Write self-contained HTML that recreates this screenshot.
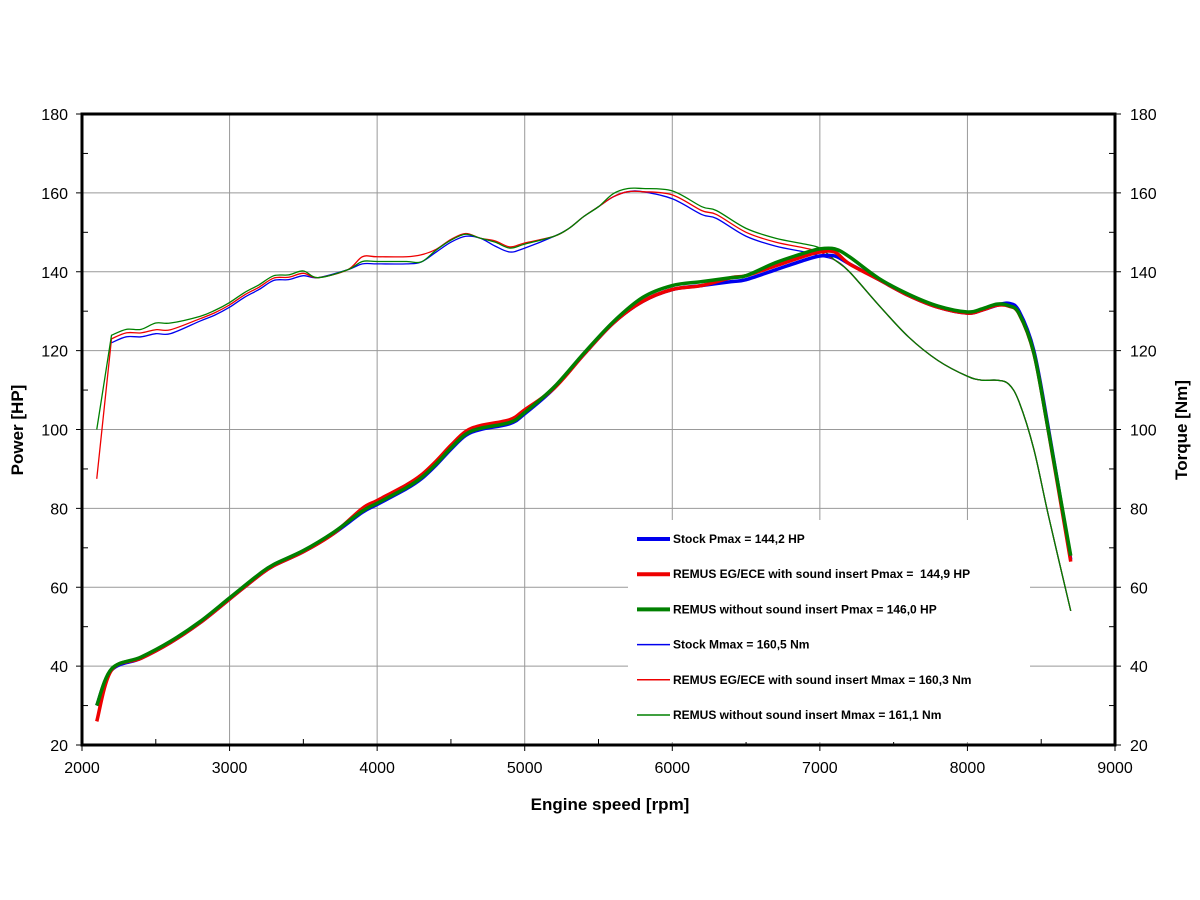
<!DOCTYPE html><html><head><style>body{margin:0;background:#fff}svg{display:block}text{font-family:"Liberation Sans",Arial,sans-serif}</style></head><body>
<svg id="s" width="1200" height="900" xmlns="http://www.w3.org/2000/svg"></svg>
<script>
const s=document.getElementById('s');
const X=r=>82+(r-2000)*1033/7000, Y=v=>745-(v-20)*631/160;
let h='';
for(let r=3000;r<=8000;r+=1000)h+=`<line x1="${X(r)}" y1="114" x2="${X(r)}" y2="745" stroke="#999" stroke-width="1"/>`;
for(let v=40;v<=160;v+=20)h+=`<line x1="82" y1="${Y(v)}" x2="1115" y2="${Y(v)}" stroke="#999" stroke-width="1"/>`;
for(let v=30;v<180;v+=20){h+=`<line x1="82" y1="${Y(v)}" x2="88" y2="${Y(v)}" stroke="#000"/><line x1="1109" y1="${Y(v)}" x2="1115" y2="${Y(v)}" stroke="#000"/>`;}
for(let r=2500;r<9000;r+=1000){h+=`<line x1="${X(r)}" y1="739" x2="${X(r)}" y2="745" stroke="#000"/>`;}
for(let r=2000;r<=9000;r+=1000){h+=`<line x1="${X(r)}" y1="745" x2="${X(r)}" y2="751" stroke="#000"/><text x="${X(r)}" y="773" font-size="16" text-anchor="middle">${r}</text>`;}
for(let v=20;v<=180;v+=20){h+=`<line x1="76" y1="${Y(v)}" x2="82" y2="${Y(v)}" stroke="#000"/><line x1="1115" y1="${Y(v)}" x2="1121" y2="${Y(v)}" stroke="#000"/><text x="68" y="${Y(v)+6}" font-size="16" text-anchor="end">${v}</text><text x="1130" y="${Y(v)+6}" font-size="16">${v}</text>`;}
function path(d,c,w,sharp){let p=d.map(a=>[X(a[0]),Y(a[1])]);let o=`M${p[0]}`;for(let i=0;i<p.length-1;i++){if(sharp&&i==0){o+=`L${p[1]}`;continue;}const p0=(sharp&&i==1)?p[1]:(p[i-1]||p[i]),p1=p[i],p2=p[i+1],p3=p[i+2]||p2;const c1=[p1[0]+(p2[0]-p0[0])/6,p1[1]+(p2[1]-p0[1])/6],c2=[p2[0]-(p3[0]-p1[0])/6,p2[1]-(p3[1]-p1[1])/6];o+=`C${c1} ${c2} ${p2}`;}return `<path d="${o}" fill="none" stroke="${c}" stroke-width="${w}" stroke-linejoin="round"/>`;}
const P=[[2100,30],[2200,39],[2400,42],[2600,46],[2800,51],[3000,57],[3200,63],[3300,65.5],[3500,69],[3700,73.5],[3900,79],[4000,81],[4200,85],[4300,87.5],[4400,91],[4500,95],[4600,98.5],[4700,100],[4900,101.5],[5000,104],[5200,110.5],[5400,119],[5600,127],[5800,132.5],[6000,135.5],[6200,136.5],[6400,137.5],[6500,138],[6700,140.5],[6900,143],[7000,144],[7100,144],[7200,142],[7400,138],[7600,134],[7800,131],[8000,129.5],[8100,130.3],[8200,131.5],[8280,132],[8350,130],[8450,120],[8550,100],[8700,67]];
const adj=(d,f)=>d.map(a=>[a[0],a[1]+f(a[0])]);
const PR=adj(P,r=>r<2150?-4:(r>3800&&r<5100?1:(r>6300&&r<7200?1:(r>8200?-0.7:0)))).map(a=>a[0]==8700?[8700,66.5]:a);
const PG=adj(P,r=>r<2150?0:(r>5700&&r<7300?(r<6600?1:1.8):(r>8200&&r<8700?-0.6:(r==8700?1:0.3))));
const T=[[2200,122],[2300,123.5],[2400,123.5],[2500,124.3],[2600,124.3],[2800,127.5],[2900,129],[3000,131],[3100,133.5],[3200,135.5],[3300,137.8],[3400,138],[3500,139],[3600,138.5],[3800,140.5],[3900,142],[4000,142],[4200,142],[4300,142.5],[4400,145],[4500,147.5],[4600,149],[4700,148.5],[4800,146.5],[4900,145],[5000,146],[5200,149],[5300,151],[5400,154],[5500,156.5],[5600,159],[5700,160.3],[5800,160.3],[6000,158.5],[6200,154.5],[6300,153.5],[6500,149],[6700,146.5],[6900,145],[7000,144],[7100,143],[7200,140],[7400,131.5],[7600,123.5],[7800,117.5],[8000,113.5],[8100,112.5],[8200,112.5],[8280,111.5],[8350,107],[8450,95],[8550,78],[8700,54]];
const TR=[[2100,87.5]].concat(adj(T,r=>r<2700?1:(r<3600?0.6:(r>=3900&&r<4400?1.8:(r>=4400&&r<4700?0.7:(r>=4800&&r<5200?1.3:(r>=6000&&r<7100?1:0)))))));
const TG=[[2100,100]].concat(adj(T,r=>r<2700?(r>=2500?2.7:1.9):(r<3600?1.2:(r>=3900&&r<4300?0.6:(r>=4400&&r<4700?0.5:(r>=4800&&r<5200?1:(r>=5600&&r<7100?(r<6000?0.8:2):0)))))));
h+=path(T,'#0000ee',1.3)+path(TR,'#ee0000',1.3,1)+path(TG,'#008000',1.3,1);
h+=path(P,'#0000ee',3.5)+path(PR,'#ee0000',3.5)+path(PG,'#008000',3.5);
h+=`<rect x="628" y="520" width="402" height="222" fill="#fff"/>`;
const L=[['#0000ee',4,'Stock Pmax = 144,2 HP'],['#ee0000',4,'REMUS EG/ECE with sound insert Pmax =  144,9 HP'],['#008000',4,'REMUS without sound insert Pmax = 146,0 HP'],['#0000ee',1.5,'Stock Mmax = 160,5 Nm'],['#ee0000',1.5,'REMUS EG/ECE with sound insert Mmax = 160,3 Nm'],['#008000',1.5,'REMUS without sound insert Mmax = 161,1 Nm']];
L.forEach((l,i)=>{const y=539+i*35.2;h+=`<line x1="637" y1="${y}" x2="670" y2="${y}" stroke="${l[0]}" stroke-width="${l[1]}"/><text x="673" y="${y+4}" font-size="12" font-weight="bold" xml:space="preserve">${l[2]}</text>`;});
h+=`<rect x="82" y="114" width="1033" height="631" fill="none" stroke="#000" stroke-width="3"/>`;
h+=`<text x="610" y="810" font-size="17" font-weight="bold" text-anchor="middle">Engine speed [rpm]</text>`;
h+=`<text transform="translate(23,430) rotate(-90)" font-size="17" font-weight="bold" text-anchor="middle">Power [HP]</text>`;
h+=`<text transform="translate(1187,430) rotate(-90)" font-size="17" font-weight="bold" text-anchor="middle">Torque [Nm]</text>`;
s.innerHTML=h;
</script></body></html>
